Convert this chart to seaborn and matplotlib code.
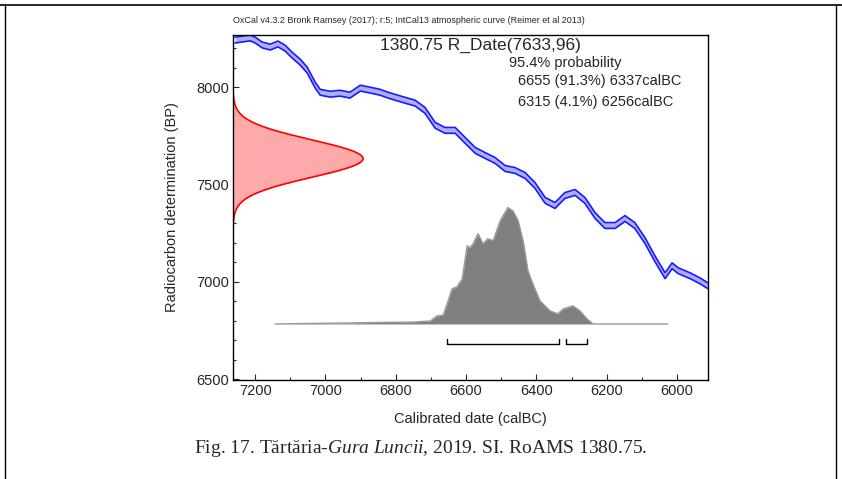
import matplotlib

matplotlib.use("Agg")
import matplotlib.pyplot as plt
from matplotlib.lines import Line2D
from matplotlib.ticker import MultipleLocator
import numpy as np
import seaborn as sns

# calibration curve (IntCal13)
curve_cal = [7257, 7214, 7200, 7180, 7157, 7135, 7115, 7095, 7072, 7052, 7029, 7015, 6987,
             6958, 6930, 6901, 6873, 6845, 6822, 6802, 6774, 6745, 6717, 6688, 6660, 6631,
             6603, 6574, 6546, 6518, 6489, 6461, 6432, 6404, 6375, 6347, 6319, 6290, 6262,
             6233, 6205, 6176, 6148, 6120, 6091, 6063, 6034, 6014, 5997, 5963, 5935, 5912]
curve_bp = [8242, 8253, 8242, 8217, 8206, 8222, 8201, 8165, 8129, 8088, 8010, 7974, 7964,
            7969, 7959, 7995, 7985, 7974, 7959, 7948, 7933, 7918, 7881, 7804, 7778, 7778,
            7727, 7675, 7649, 7624, 7582, 7572, 7546, 7495, 7418, 7392, 7443, 7459, 7418,
            7340, 7289, 7289, 7325, 7289, 7211, 7119, 7031, 7082, 7057, 7031, 7005, 6979]
curve_err = 15

# calibrated distribution (height in BP units above baseline)
post_cal = [7143, 6751, 6702, 6683, 6665, 6651, 6640, 6626, 6611, 6597, 6589, 6580, 6566,
            6552, 6538, 6523, 6503, 6481, 6467, 6452, 6438, 6424, 6410, 6390, 6361, 6339,
            6324, 6296, 6276, 6256, 6239, 6026]
post_h = [0, 10, 15, 41, 46, 119, 180, 191, 232, 402, 392, 412, 464, 412, 438, 428, 531,
          598, 582, 531, 428, 273, 206, 119, 67, 52, 77, 93, 67, 26, 0, 0]
post_base = 6783

# radiocarbon date
date_mean = 7633
date_sd = 96
date_peak_width = 370

ranges = [(6655, 6337), (6315, 6256)]
range_y = 6680

sns.set_theme(style="white")
plt.rcParams["font.family"] = ["Liberation Sans", "DejaVu Sans"]
plt.rcParams["mathtext.fontset"] = "custom"
plt.rcParams["mathtext.rm"] = "Liberation Serif"
plt.rcParams["mathtext.it"] = "Liberation Serif:italic"

fig = plt.figure(figsize=(8.42, 4.79), dpi=100)
ax = fig.add_axes([0.2767, 0.2067, 0.5641, 0.7202])

x0, x1 = 7263, 5912
y0, y1 = 6495, 8268

# normal curve on y axis
bp = np.linspace(date_mean - 4 * date_sd, date_mean + 4 * date_sd, 300)
dens = np.exp(-0.5 * ((bp - date_mean) / date_sd) ** 2)
ax.fill_betweenx(bp, x0, x0 - dens * date_peak_width, color="#ffaaaa", lw=0)
ax.plot(x0 - dens * date_peak_width, bp, color="red", lw=1.2)

# calibration band
cb = np.array(curve_bp)
ax.fill_between(curve_cal, cb - curve_err, cb + curve_err, color="#aab0ff", lw=0)
sns.lineplot(x=curve_cal, y=cb - curve_err, color="#1a1aff", lw=1.2, ax=ax)
sns.lineplot(x=curve_cal, y=cb + curve_err, color="#1a1aff", lw=1.2, ax=ax)

# posterior
ph = np.array(post_h)
ax.fill_between(post_cal, post_base, post_base + ph, color="#7f7f7f", lw=0)
ax.plot(post_cal, post_base + ph, color="#999999", lw=1)

# 95.4% ranges
for a, b in ranges:
    ax.plot([a, a, b, b], [range_y + 25, range_y, range_y, range_y + 25], color="black", lw=1)

ax.set_xlim(x0, x1)
ax.set_ylim(y0, y1)
ax.xaxis.set_major_locator(MultipleLocator(200))
ax.xaxis.set_minor_locator(MultipleLocator(100))
ax.yaxis.set_major_locator(MultipleLocator(500))
ax.yaxis.set_minor_locator(MultipleLocator(100))
ax.tick_params(which="both", direction="in", bottom=True, left=True, labelsize=10.5,
               length=4, width=0.8, pad=3)
ax.tick_params(which="minor", length=2)
for s in ax.spines.values():
    s.set_color("black")
    s.set_linewidth(1)

ax.set_xlabel("Calibrated date (calBC)", fontsize=10.5, labelpad=10)
ax.set_ylabel("Radiocarbon determination (BP)", fontsize=10.5, labelpad=12)

fig.text(0.2767, 0.948, "OxCal v4.3.2 Bronk Ramsey (2017); r:5; IntCal13 atmospheric curve (Reimer et al 2013)",
         fontsize=6.5, va="bottom", ha="left")
fig.text(0.57, 0.905, "1380.75 R_Date(7633,96)", fontsize=12.5, ha="center", va="center")
fig.text(0.605, 0.868, "95.4% probability", fontsize=10.5, va="center")
fig.text(0.615, 0.830, "6655 (91.3%) 6337calBC", fontsize=10.5, va="center")
fig.text(0.615, 0.788, "6315 (4.1%) 6256calBC", fontsize=10.5, va="center")

# page frame and caption
fig.add_artist(Line2D([0, 1], [0.99, 0.99], color="black", lw=1.2))
fig.add_artist(Line2D([0.006, 0.006], [0, 0.99], color="black", lw=1))
fig.add_artist(Line2D([0.993, 0.993], [0, 0.99], color="black", lw=1))
fig.text(0.5, 0.064, "Fig. 17. Tărtăria-$\\it{Gura\\ Luncii}$, 2019. SI. RoAMS 1380.75.",
         fontsize=14, ha="center", va="center", family="Liberation Serif")

fig.savefig("out.png", dpi=100)
